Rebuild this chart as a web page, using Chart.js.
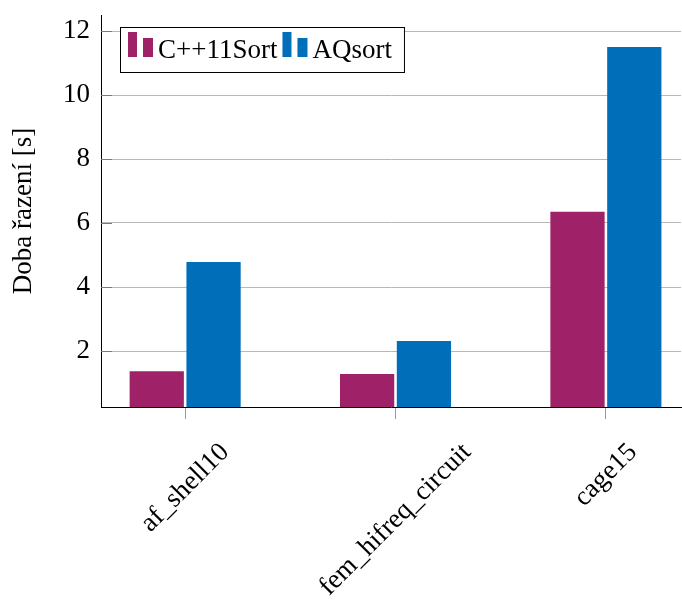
<!DOCTYPE html>
<html>
<head>
<meta charset="utf-8">
<script src="https://cdn.jsdelivr.net/npm/chart.js@4.4.0/dist/chart.umd.min.js"></script>
<style>
    html, body { margin: 0; padding: 0; background: #fff; }
    #wrap { width: 682px; height: 604px; }
</style>
</head>
<body>
<div id="wrap"><canvas id="chart" width="682" height="604"></canvas></div>
<script>
const categories = ['af_shell10', 'fem_hifreq_circuit', 'cage15'];
const seriesNames = ['C++11Sort', 'AQsort'];
const cppSort = [1.37, 1.28, 6.35];
const aqSort = [4.78, 2.31, 11.5];
const yTicks = [2, 4, 6, 8, 10, 12];
const yTitle = 'Doba řazení [s]';

const colors = ['#9f2268', '#006eb8'];
const fontFamily = '"Liberation Serif", "DejaVu Serif", serif';
const fontSize = 27;

// x labels drawn centred under the tick and rotated 45deg (pgfplots style)
const xLabelsPlugin = {
    id: 'xLabels',
    afterDraw(chart) {
        const ctx = chart.ctx;
        const xs = chart.scales.x;
        const top = chart.chartArea.bottom + 34;
        ctx.save();
        ctx.font = `${fontSize}px ${fontFamily}`;
        ctx.fillStyle = '#000';
        ctx.textAlign = 'center';
        ctx.textBaseline = 'middle';
        categories.forEach((label, i) => {
            const px = xs.getPixelForValue(i + 1);
            const w = ctx.measureText(label).width;
            const h = fontSize * 0.75;
            const cy = top + (w + h) * Math.SQRT1_2 / 2;
            ctx.save();
            ctx.translate(px, cy);
            ctx.rotate(-Math.PI / 4);
            ctx.fillText(label, 0, 0);
            ctx.restore();
        });
        ctx.restore();
    }
};

// inner y tick marks + legend box inside the plot
const decorPlugin = {
    id: 'decor',
    afterDatasetsDraw(chart) {
        const ctx = chart.ctx;
        const a = chart.chartArea;
        const ys = chart.scales.y;
        ctx.save();
        ctx.strokeStyle = '#7a7a7a';
        ctx.lineWidth = 1;
        yTicks.forEach(v => {
            const py = Math.round(ys.getPixelForValue(v)) + 0.5;
            ctx.beginPath();
            ctx.moveTo(a.left, py);
            ctx.lineTo(a.left + 11, py);
            ctx.stroke();
        });

        // legend
        ctx.font = `${fontSize}px ${fontFamily}`;
        const x0 = a.left + 19, y0 = a.top + 12, h = 45;
        let width = 8;
        seriesNames.forEach((n, i) => {
            width += 25 + 5 + ctx.measureText(n).width + (i < seriesNames.length - 1 ? 5 : 12);
        });
        ctx.fillStyle = '#fff';
        ctx.fillRect(x0, y0, width, h);
        ctx.strokeStyle = '#000';
        ctx.strokeRect(x0 + 0.5, y0 + 0.5, width, h);

        let x = x0 + 8;
        const base = y0 + 31;
        seriesNames.forEach((n, i) => {
            ctx.fillStyle = colors[i];
            ctx.fillRect(x, y0 + 5, 9, 25);
            ctx.fillRect(x + 15, y0 + 11, 10, 19);
            x += 30;
            ctx.fillStyle = '#000';
            ctx.textAlign = 'left';
            ctx.textBaseline = 'alphabetic';
            ctx.fillText(n, x, base);
            x += ctx.measureText(n).width + 5;
        });
        ctx.restore();
    }
};

const toPoints = arr => arr.map((v, i) => ({ x: i + 1, y: v }));

new Chart(document.getElementById('chart'), {
    type: 'bar',
    data: {
        datasets: [
            { label: seriesNames[0], data: toPoints(cppSort), backgroundColor: colors[0], borderWidth: 0 },
            { label: seriesNames[1], data: toPoints(aqSort), backgroundColor: colors[1], borderWidth: 0 }
        ]
    },
    options: {
        responsive: false,
        animation: false,
        devicePixelRatio: 1,
        categoryPercentage: 0.54,
        barPercentage: 0.955,
        layout: { padding: { left: 0, right: 1, top: 15, bottom: 185 } },
        plugins: { legend: { display: false }, tooltip: { enabled: false } },
        scales: {
            x: {
                type: 'linear',
                min: 0.6,
                max: 3.357,
                offset: false,
                afterBuildTicks: s => { s.ticks = categories.map((c, i) => ({ value: i + 1 })); },
                afterFit: s => { s.paddingLeft = 0; s.paddingRight = 0; },
                ticks: { display: false },
                grid: { offset: false, drawOnChartArea: false, drawTicks: true, tickLength: 12, tickColor: '#9a9a9a', lineWidth: 1 },
                border: { color: '#000', width: 1 }
            },
            y: {
                min: 0.25,
                max: 12.5,
                afterBuildTicks: s => { s.ticks = yTicks.map(v => ({ value: v })); },
                afterFit: s => { s.width = 101; s.paddingTop = 0; s.paddingBottom = 0; },
                ticks: { color: '#000', padding: 11, font: { family: fontFamily, size: fontSize } },
                grid: { color: '#b8b8b8', drawTicks: false, lineWidth: 1 },
                border: { color: '#000', width: 1 },
                title: {
                    display: true, text: yTitle, color: '#000',
                    font: { family: fontFamily, size: fontSize },
                    padding: { top: 8, bottom: 0 }
                }
            }
        }
    },
    plugins: [xLabelsPlugin, decorPlugin]
});
</script>
</body>
</html>
